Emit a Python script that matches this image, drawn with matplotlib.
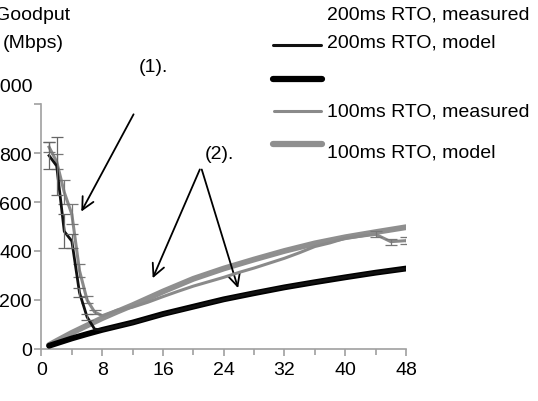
import numpy as np
import matplotlib
matplotlib.use("Agg")
from matplotlib import pyplot as plt
from matplotlib.lines import Line2D

plt.rcParams['font.family'] = ['Liberation Sans', 'DejaVu Sans']

# measured runs (number of servers)
n_meas = [1, 2, 3, 4, 5, 6, 7, 8, 10, 12, 14, 16, 18, 20, 22, 24, 26, 28, 30,
          32, 34, 36, 38, 40, 42, 44, 46, 48]
rto200_meas = [790, 748, 480, 440, 230, 130, 80, 77, 92, 106, 124, 141, 156,
               171, 187, 201, 215, 228, 240, 251, 262, 272, 283, 292, 302,
               311, 319, 327]
rto200_err = [56, 120, 70, 30, 20, 12, 0, 0, 0, 0, 0, 0, 0, 0, 0, 0, 0, 0, 0,
              0, 0, 0, 0, 0, 0, 0, 0, 0]
rto100_meas = [825, 765, 640, 550, 320, 200, 150, 135, 158, 170, 190, 213,
               235, 256, 274, 292, 312, 330, 350, 370, 393, 418, 433, 452,
               460, 468, 438, 442]
rto100_err = [20, 30, 50, 40, 25, 15, 10, 0, 0, 0, 0, 0, 0, 0, 0, 0, 0, 0, 0,
              0, 0, 0, 0, 0, 0, 12, 12, 14]

# model curves
n_model = [1, 2, 4, 6, 8, 10, 12, 16, 20, 24, 28, 32, 36, 40, 44, 48]
rto200_model = [12, 22, 42, 60, 77, 92, 107, 142, 172, 202, 227, 251, 272,
                292, 311, 328]
rto100_model = [15, 32, 65, 95, 125, 152, 178, 234, 286, 328, 365, 400, 431,
                456, 477, 497]

fig = plt.figure(figsize=(5.38, 4.02), dpi=100)
ax = fig.add_axes([0.0771, 0.1301, 0.6775, 0.608])

c_thin_gray = '#8a8a8a'
c_thick_gray = '#8f8f8f'


def err_points(xs, ys, es):
    keep = [i for i, e in enumerate(es) if e > 0]
    return ([xs[i] for i in keep], [ys[i] for i in keep],
            [es[i] for i in keep])


ax.plot(n_model, rto100_model, color=c_thick_gray, lw=4.2,
        solid_capstyle='round', zorder=2)
ax.plot(n_model, rto200_model, color='black', lw=4.2,
        solid_capstyle='round', zorder=3)
ax.plot(n_meas, rto100_meas, color=c_thin_gray, lw=2.2, zorder=4)
ax.plot(n_meas, rto200_meas, color='#111111', lw=2.0, zorder=5)
ex, ey, ee = err_points(n_meas, rto100_meas, rto100_err)
ax.errorbar(ex, ey, yerr=ee, fmt='none', ecolor='#777777', elinewidth=0.9,
            capsize=4, capthick=0.9, zorder=4)
ex, ey, ee = err_points(n_meas, rto200_meas, rto200_err)
ax.errorbar(ex, ey, yerr=ee, fmt='none', ecolor='#666666', elinewidth=0.9,
            capsize=4, capthick=0.9, zorder=5)

ax.set_xlim(0, 48)
ax.set_ylim(0, 1000)
ax.set_xticks(np.arange(0, 49, 8))
ax.set_xticks(np.arange(4, 48, 8), minor=True)
ax.set_yticks(np.arange(0, 1001, 200))
ax.set_yticklabels(['0', '200', '400', '600', '800', ''])
ax.tick_params(axis='both', which='major', labelsize=14, color='#a0a0a0',
               length=5, width=1.2)
ax.tick_params(axis='x', which='minor', color='#a0a0a0', length=4, width=1.2)
ax.tick_params(axis='x', pad=4)
ax.tick_params(axis='y', pad=2)
for s in ['top', 'right']:
    ax.spines[s].set_visible(False)
for s in ['left', 'bottom']:
    ax.spines[s].set_color('#a0a0a0')
    ax.spines[s].set_linewidth(1.2)

# y label and the offset 1000 label (cut at the left edge as in the original)
fig.text(70 / 538, 1 - 15 / 402, 'Goodput', ha='right', va='center', fontsize=14)
fig.text(33 / 538, 1 - 43 / 402, '(Mbps)', ha='center', va='center', fontsize=14)
fig.text(33 / 538, 1 - 88 / 402, '1000', ha='right', va='center', fontsize=14)

# annotations
arrow = dict(arrowstyle='->', lw=1.3, color='black', mutation_scale=22)
ax.text(14.75, 1153, '(1).', ha='center', va='center', fontsize=14, clip_on=False)
ax.annotate('', xy=(5.07, 551), xytext=(12.3, 969), arrowprops=arrow,
            annotation_clip=False)
ax.text(23.4, 797, '(2).', ha='center', va='center', fontsize=14)
ax.annotate('', xy=(14.5, 278), xytext=(21.0, 744), arrowprops=arrow)
ax.annotate('', xy=(26.0, 237), xytext=(21.0, 744), arrowprops=arrow)

# hand-placed legend
legend_lines = [(46, 273, 321, '#111111', 2.2),
                (80, 273, 322, 'black', 4.5),
                (112, 274, 321, c_thin_gray, 2.2),
                (145, 273, 322, c_thick_gray, 4.5)]
for y, x0, x1, col, lw in legend_lines:
    fig.add_artist(Line2D([x0 / 538, x1 / 538], [1 - y / 402, 1 - y / 402],
                          color=col, lw=lw, solid_capstyle='round'))
legend_texts = [(15, '200ms RTO, measured'), (43, '200ms RTO, model'),
                (112, '100ms RTO, measured'), (153, '100ms RTO, model')]
for y, t in legend_texts:
    fig.text(327 / 538, 1 - y / 402, t, ha='left', va='center', fontsize=14)

fig.savefig('out.png', dpi=100)
